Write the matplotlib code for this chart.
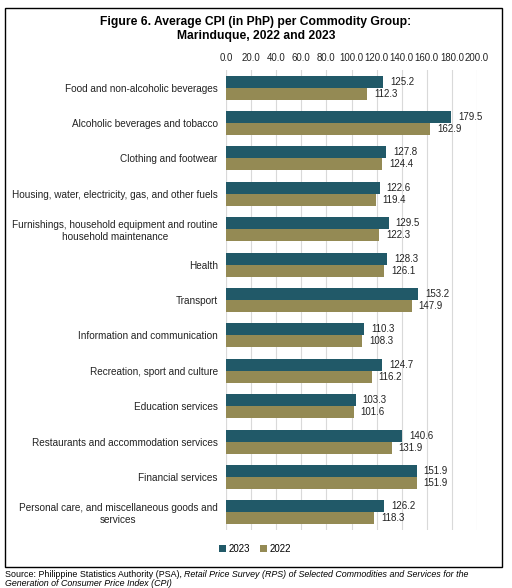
import matplotlib
matplotlib.use("Agg")
import matplotlib.pyplot as plt
import numpy as np
from matplotlib.patches import Rectangle

plt.rcParams['font.family'] = ['Liberation Sans', 'DejaVu Sans']

categories = [
    "Food and non-alcoholic beverages",
    "Alcoholic beverages and tobacco",
    "Clothing and footwear",
    "Housing, water, electricity, gas, and other fuels",
    "Furnishings, household equipment and routine\nhousehold maintenance",
    "Health",
    "Transport",
    "Information and communication",
    "Recreation, sport and culture",
    "Education services",
    "Restaurants and accommodation services",
    "Financial services",
    "Personal care, and miscellaneous goods and\nservices",
]
cpi_2023 = [125.2, 179.5, 127.8, 122.6, 129.5, 128.3, 153.2, 110.3, 124.7, 103.3, 140.6, 151.9, 126.2]
cpi_2022 = [112.3, 162.9, 124.4, 119.4, 122.3, 126.1, 147.9, 108.3, 116.2, 101.6, 131.9, 151.9, 118.3]
ticks = np.arange(0, 201, 20)

c23 = '#215968'
c22 = '#948A54'
txt = '#222222'

fig = plt.figure(figsize=(5.12, 5.88), dpi=100)
ax = fig.add_axes([226/512, 1-530/588, 251/512, 460/588])

y = np.arange(len(categories))
h = 0.34
b1 = ax.barh(y - h/2, cpi_2023, height=h, color=c23, label='2023', zorder=3)
b2 = ax.barh(y + h/2, cpi_2022, height=h, color=c22, label='2022', zorder=3)
ax.bar_label(b1, labels=[f"{v:.1f}" for v in cpi_2023], padding=5, fontsize=7, color=txt)
ax.bar_label(b2, labels=[f"{v:.1f}" for v in cpi_2022], padding=5, fontsize=7, color=txt)

ax.set_xlim(0, 200)
ax.set_ylim(len(categories) - 0.5, -0.5)
ax.set_xticks(ticks)
ax.set_xticklabels([f"{t:.1f}" for t in ticks], fontsize=6.9, color=txt)
ax.xaxis.tick_top()
ax.tick_params(axis='x', length=0, pad=5)
ax.set_yticks(y)
ax.set_yticklabels(categories, fontsize=7.2, color=txt, multialignment='center')
ax.tick_params(axis='y', length=0, pad=6)
ax.grid(axis='x', color='#d9d9d9', linewidth=0.8, zorder=0)
for s in ax.spines.values():
    s.set_visible(False)
ax.axvline(0, color='#d9d9d9', linewidth=0.8, zorder=1)

fig.legend(handles=[b1, b2], labels=['2023', '2022'], loc='center', bbox_to_anchor=(255/512, 1-549/588),
           ncol=2, frameon=False, fontsize=7, handlelength=0.7, handleheight=0.7,
           handletextpad=0.3, columnspacing=1.0)

fig.text(0.5, 1-29/588, "Figure 6. Average CPI (in PhP) per Commodity Group:\nMarinduque, 2022 and 2023",
         ha='center', va='center', fontsize=8.7, fontweight='bold', linespacing=1.15)

fig.patches.append(Rectangle((5/512, 1-567/588), 497/512, 559/588, transform=fig.transFigure,
                             fill=False, edgecolor='black', linewidth=1.0))

# source note: normal part then italic title
src = fig.text(5/512, 1-570/588, "Source: Philippine Statistics Authority (PSA), ",
               ha='left', va='top', fontsize=6.4)
fig.canvas.draw()
bb = src.get_window_extent().transformed(fig.transFigure.inverted())
fig.text(bb.x1, 1-570/588, "Retail Price Survey (RPS) of Selected Commodities and Services for the",
         ha='left', va='top', fontsize=6.4, style='italic')
fig.text(5/512, 1-579/588, "Generation of Consumer Price Index (CPI)",
         ha='left', va='top', fontsize=6.4, style='italic')

fig.savefig("out.png", dpi=100)
